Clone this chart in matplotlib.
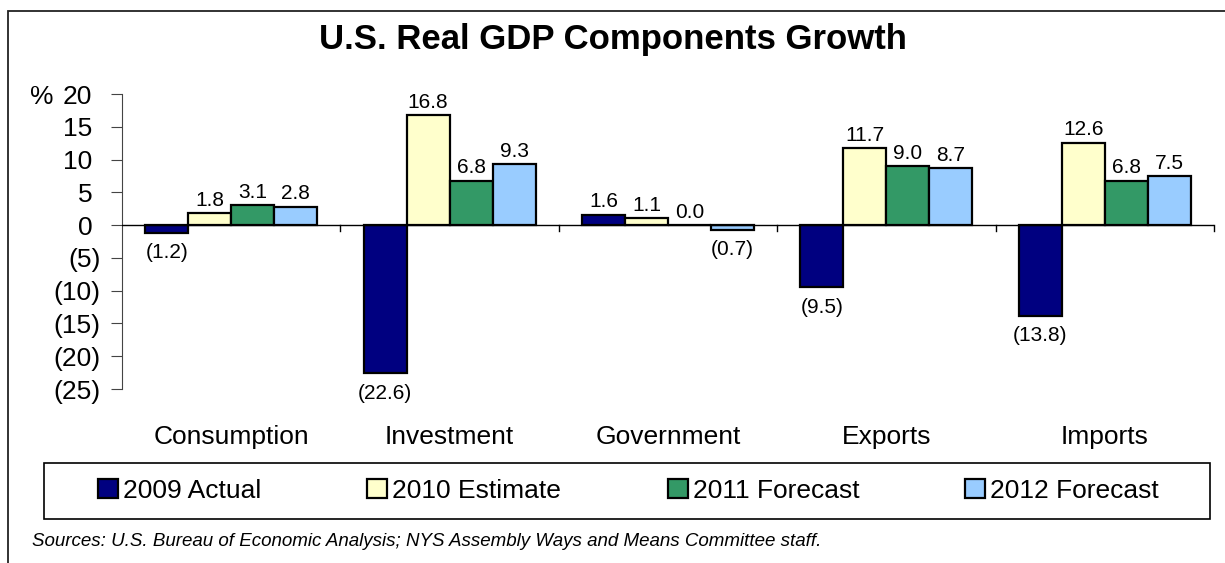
import matplotlib
matplotlib.use('Agg')
import matplotlib.pyplot as plt
from matplotlib.patches import Rectangle, Patch
from matplotlib.transforms import ScaledTranslation
import numpy as np

plt.rcParams['font.family'] = ['Liberation Sans', 'DejaVu Sans']

categories = ['Consumption', 'Investment', 'Government', 'Exports', 'Imports']
series_names = ['2009 Actual', '2010 Estimate', '2011 Forecast', '2012 Forecast']
actual_2009 = [-1.2, -22.6, 1.6, -9.5, -13.8]
estimate_2010 = [1.8, 16.8, 1.1, 11.7, 12.6]
forecast_2011 = [3.1, 6.8, 0.0, 9.0, 6.8]
forecast_2012 = [2.8, 9.3, -0.7, 8.7, 7.5]
series = [actual_2009, estimate_2010, forecast_2011, forecast_2012]
colors = ['#000080', '#FFFFCC', '#339966', '#99CCFF']

yticks = [20, 15, 10, 5, 0, -5, -10, -15, -20, -25]
ytick_labels = ['20', '15', '10', '5', '0', '(5)', '(10)', '(15)', '(20)', '(25)']

W, H = 1225, 563
fig = plt.figure(figsize=(W / 100, H / 100), dpi=100)
ax = fig.add_axes([122 / W, 1 - 389 / H, (1214 - 122) / W, (389 - 94) / H])

def fmt(v):
    return f'({abs(v):.1f})' if v < 0 else f'{v:.1f}'

n = len(categories)
bw = 0.197
x = np.arange(n) + 0.5
for i, (vals, c) in enumerate(zip(series, colors)):
    pos = x + (i - 1.5) * bw
    ax.bar(pos, vals, width=bw, color=c, edgecolor='black', linewidth=1.6, zorder=3)
    for p, v in zip(pos, vals):
        if v < 0:
            ax.text(p, v - 1.6, fmt(v), ha='center', va='top', fontsize=15)
        else:
            ax.text(p, v + 0.5, fmt(v), ha='center', va='bottom', fontsize=15)

ax.set_xlim(0, n)
ax.set_ylim(-25, 20)
ax.set_yticks(yticks)
ax.set_yticklabels(ytick_labels, fontsize=19)
ax.tick_params(axis='y', length=8, pad=7.5, color='#444444')
ax.set_xticks([])
for s in ['top', 'right', 'bottom']:
    ax.spines[s].set_visible(False)
ax.spines['left'].set_color('#444444')

# accounting style: positive labels leave room for a closing parenthesis
shift = ScaledTranslation(-8 / 100, 0, fig.dpi_scale_trans)
for lab in ax.get_yticklabels():
    if '(' not in lab.get_text():
        lab.set_transform(lab.get_transform() + shift)

# unit marker next to the top tick
fig.text(30 / W, 1 - 94 / H, '%', ha='left', va='center_baseline', fontsize=19)

# zero line with category dividers
ax.axhline(0, color='black', linewidth=1.0, zorder=4)
for b in range(1, n + 1):
    ax.plot([b, b], [0, -0.9], color='black', linewidth=1.0, clip_on=False)

for xc, name in zip(x, categories):
    ax.text(xc, -0.163, name, transform=ax.get_xaxis_transform(), ha='center', va='center', fontsize=19)

fig.text(0.5, 1 - 40 / H, 'U.S. Real GDP Components Growth', ha='center', va='center',
         fontsize=25, fontweight='bold')

# legend: one entry per slot inside a shared box
box_y0, box_y1 = 1 - 519 / H, 1 - 463 / H
fig.patches.append(Rectangle((44 / W, box_y0), (1210 - 44) / W, box_y1 - box_y0,
                             transform=fig.transFigure, fill=False, edgecolor='black', linewidth=1.2))
legend_x = [98, 367, 668, 965]
for lx, name, c in zip(legend_x, series_names, colors):
    h = Patch(facecolor=c, edgecolor='black', linewidth=1.6)
    fig.legend([h], [name], loc='center left', bbox_to_anchor=(lx / W, (box_y0 + box_y1) / 2),
               fontsize=19, frameon=False, handlelength=0.75, handleheight=0.75,
               handletextpad=0.2, borderpad=0, borderaxespad=0)

fig.text(32 / W, 1 - 541 / H,
         'Sources: U.S. Bureau of Economic Analysis; NYS Assembly Ways and Means Committee staff.',
         ha='left', va='center', fontsize=13.5, style='italic')

# outer chart frame
fig.patches.append(Rectangle((8 / W, -0.2), 1.2, 1.2 - 11 / H, transform=fig.transFigure,
                             fill=False, edgecolor='#222222', linewidth=1.3))

plt.savefig('out.png', dpi=100)
plt.close()
